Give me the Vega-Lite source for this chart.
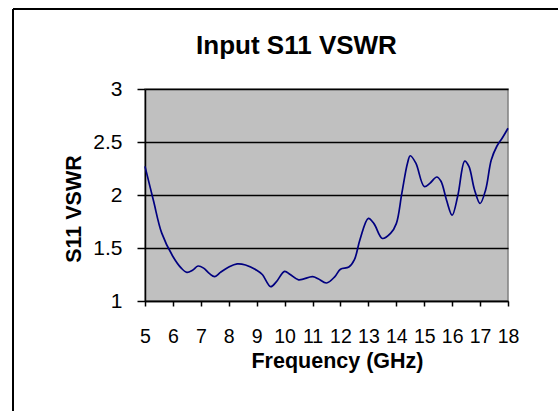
{
  "$schema": "https://vega.github.io/schema/vega-lite/v6.json",
  "autosize": {"type": "none"},
  "width": 363,
  "height": 212,
  "padding": {"left": 145, "top": 89, "right": 50, "bottom": 110},
  "background": "white",
  "title": {
    "text": "Input S11 VSWR",
    "font": "Liberation Sans",
    "fontSize": 26,
    "fontWeight": "bold",
    "color": "black",
    "anchor": "middle",
    "dx": -30,
    "dy": 55
  },
  "config": {
    "view": {"fill": "#C0C0C0", "stroke": "#808080", "strokeWidth": 1.5},
    "axis": {
      "labelFont": "Liberation Sans",
      "labelColor": "black",
      "labelOverlap": false,
      "labelFlush": false,
      "titleFont": "Liberation Sans",
      "titleFontSize": 21.5,
      "titleFontWeight": "bold",
      "titleColor": "black",
      "domainColor": "black",
      "domainWidth": 1.5,
      "tickColor": "black",
      "tickWidth": 1.5
    }
  },
  "resolve": {"axis": {"x": "independent", "y": "independent"}},
  "data": {
    "values": [
      {"f": 5.0, "vswr": 2.27},
      {"f": 5.3, "vswr": 1.95},
      {"f": 5.6, "vswr": 1.64},
      {"f": 6.0, "vswr": 1.42},
      {"f": 6.3, "vswr": 1.31},
      {"f": 6.5, "vswr": 1.27},
      {"f": 6.7, "vswr": 1.29},
      {"f": 6.9, "vswr": 1.33},
      {"f": 7.1, "vswr": 1.31},
      {"f": 7.3, "vswr": 1.26},
      {"f": 7.5, "vswr": 1.23},
      {"f": 7.7, "vswr": 1.27},
      {"f": 8.0, "vswr": 1.32},
      {"f": 8.3, "vswr": 1.35},
      {"f": 8.6, "vswr": 1.34},
      {"f": 9.0, "vswr": 1.29},
      {"f": 9.2, "vswr": 1.25},
      {"f": 9.5, "vswr": 1.135},
      {"f": 9.7, "vswr": 1.18},
      {"f": 10.0, "vswr": 1.28},
      {"f": 10.2, "vswr": 1.25},
      {"f": 10.5, "vswr": 1.2},
      {"f": 11.0, "vswr": 1.23},
      {"f": 11.2, "vswr": 1.21},
      {"f": 11.5, "vswr": 1.17},
      {"f": 11.8, "vswr": 1.23},
      {"f": 12.0, "vswr": 1.3},
      {"f": 12.3, "vswr": 1.32},
      {"f": 12.5, "vswr": 1.39},
      {"f": 12.7, "vswr": 1.58},
      {"f": 13.0, "vswr": 1.78},
      {"f": 13.2, "vswr": 1.73},
      {"f": 13.5, "vswr": 1.59},
      {"f": 13.8, "vswr": 1.64},
      {"f": 14.0, "vswr": 1.73},
      {"f": 14.2, "vswr": 2.02},
      {"f": 14.4, "vswr": 2.3},
      {"f": 14.5, "vswr": 2.37},
      {"f": 14.7, "vswr": 2.3},
      {"f": 15.0, "vswr": 2.08},
      {"f": 15.2, "vswr": 2.11},
      {"f": 15.45, "vswr": 2.17},
      {"f": 15.6, "vswr": 2.13},
      {"f": 15.8, "vswr": 1.95},
      {"f": 16.0, "vswr": 1.81},
      {"f": 16.2, "vswr": 1.99},
      {"f": 16.45, "vswr": 2.32},
      {"f": 16.6, "vswr": 2.27},
      {"f": 16.8, "vswr": 2.05},
      {"f": 17.0, "vswr": 1.92},
      {"f": 17.2, "vswr": 2.05},
      {"f": 17.4, "vswr": 2.33},
      {"f": 17.6, "vswr": 2.46},
      {"f": 17.8, "vswr": 2.54},
      {"f": 18.0, "vswr": 2.63}
    ]
  },
  "layer": [
    {
      "mark": {"type": "line", "color": "#000080", "strokeWidth": 1.7, "interpolate": "catmull-rom"},
      "encoding": {
        "x": {
          "field": "f",
          "type": "quantitative",
          "scale": {"domain": [5, 18], "nice": false, "zero": false},
          "axis": {
            "title": "Frequency (GHz)",
            "values": [5, 6, 7, 8, 9, 10, 11, 12, 13, 14, 15, 16, 17, 18],
            "grid": false,
            "tickSize": 5,
            "labelFontSize": 19.5,
            "labelPadding": 21,
            "labelFlush": false,
            "labelOverlap": false,
            "labelBound": false,
            "titleX": 192,
            "titleY": 66,
            "titleBaseline": "alphabetic"
          }
        },
        "y": {
          "field": "vswr",
          "type": "quantitative",
          "scale": {"domain": [1, 3], "nice": false, "zero": false},
          "axis": {
            "title": "S11 VSWR",
            "values": [1, 1.5, 2, 2.5, 3],
            "format": "~g",
            "grid": true,
            "gridColor": "black",
            "gridWidth": 1.5,
            "gridOpacity": 1,
            "tickSize": 8,
            "labelFontSize": 21,
            "labelPadding": 15,
            "titleX": -65,
            "titleY": 119.5,
            "titleBaseline": "alphabetic"
          }
        }
      }
    },
    {
      "mark": {"type": "rule", "color": "black", "strokeWidth": 1.5, "clip": false},
      "encoding": {
        "x": {"datum": 0.273, "type": "quantitative", "axis": null},
        "y": {"datum": 3.755, "type": "quantitative", "axis": null},
        "y2": {"datum": -1}
      }
    },
    {
      "mark": {"type": "rule", "color": "black", "strokeWidth": 1.5, "clip": false},
      "encoding": {
        "x": {"datum": 0.273, "type": "quantitative", "axis": null},
        "x2": {"datum": 22},
        "y": {"datum": 3.755, "type": "quantitative", "axis": null}
      }
    }
  ]
}
